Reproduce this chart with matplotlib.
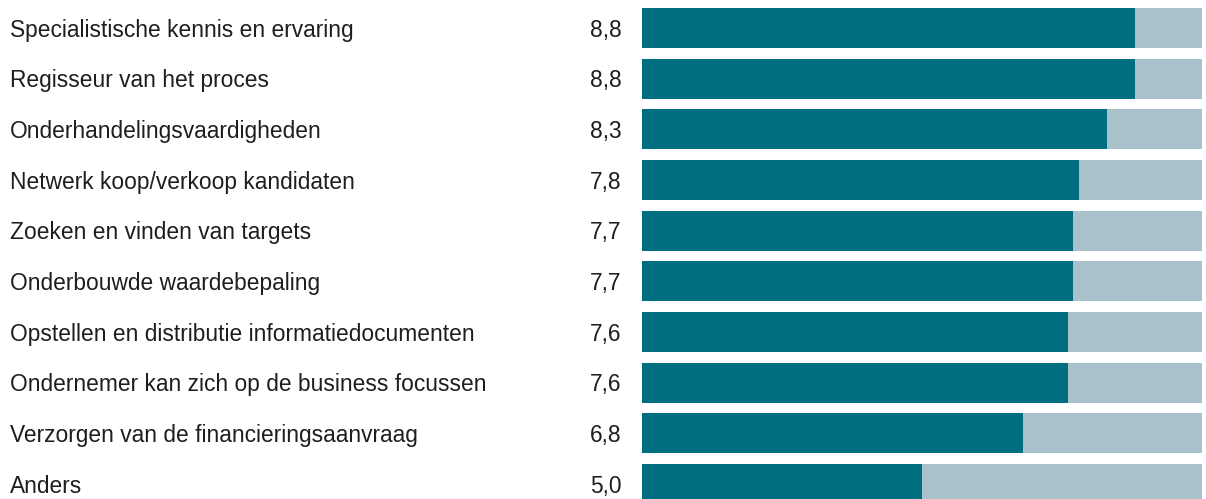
import matplotlib
matplotlib.use("Agg")
import matplotlib.pyplot as plt
from matplotlib.transforms import blended_transform_factory

categories = [
    "Specialistische kennis en ervaring",
    "Regisseur van het proces",
    "Onderhandelingsvaardigheden",
    "Netwerk koop/verkoop kandidaten",
    "Zoeken en vinden van targets",
    "Onderbouwde waardebepaling",
    "Opstellen en distributie informatiedocumenten",
    "Ondernemer kan zich op de business focussen",
    "Verzorgen van de financieringsaanvraag",
    "Anders",
]
values = [8.8, 8.8, 8.3, 7.8, 7.7, 7.7, 7.6, 7.6, 6.8, 5.0]
max_value = 10

W, H = 1206, 499
fig = plt.figure(figsize=(W / 100, H / 100), dpi=100)
ax = fig.add_axes([642 / W, 0, 560 / W, 1])

dark = "#006e80"
light = "#a9c1cb"
pitch = 50.67
bh = 40 / pitch
ys = list(range(len(categories)))
ax.barh(ys, [max_value] * len(values), height=bh, color=light, linewidth=0)
ax.barh(ys, values, height=bh, color=dark, linewidth=0)
ax.set_xlim(0, max_value)
ax.set_ylim((H - 28) / pitch, -28 / pitch)
ax.axis("off")

tr = blended_transform_factory(fig.transFigure, ax.transData)
off = 8.5 / pitch
fs = 16.4
for y, c, v in zip(ys, categories, values):
    ax.text(10 / W, y + off, c, transform=tr, ha="left", va="baseline",
            fontsize=fs, family="Liberation Sans", color="#1e1e1e")
    ax.text(621.5 / W, y + off, f"{v:.1f}".replace(".", ","), transform=tr, ha="right",
            va="baseline", fontsize=fs, family="Liberation Sans", color="#1e1e1e")

fig.savefig("out.png", dpi=100)
